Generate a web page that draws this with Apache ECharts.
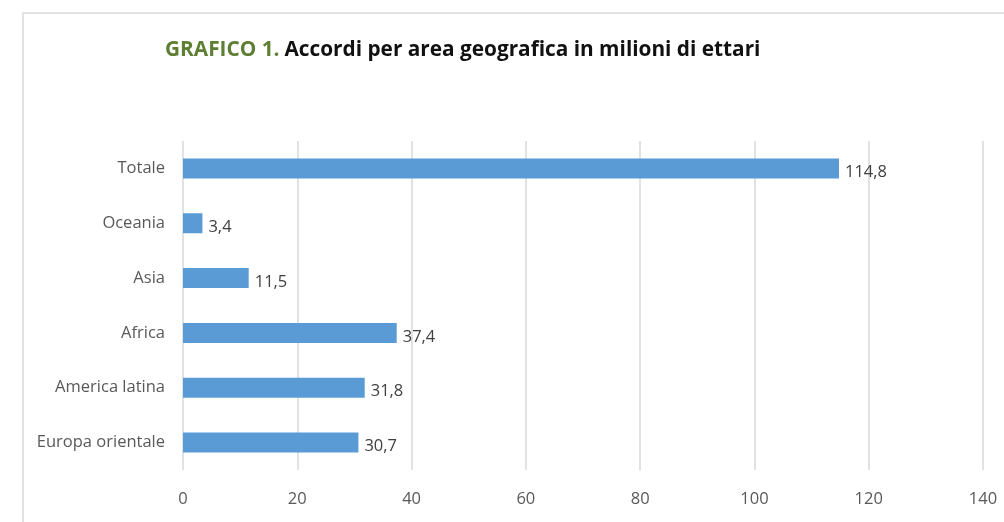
<!DOCTYPE html>
<html>
<head>
<meta charset="utf-8">
<script src="https://cdn.jsdelivr.net/npm/echarts@6/dist/echarts.min.js"></script>
<style>
  html, body { margin: 0; padding: 0; background: #fff; }
  #chart { width: 1004px; height: 522px; }
</style>
</head>
<body>
<div id="chart"></div>
<script>
// Aree geografiche (dal basso verso l'alto) e milioni di ettari
const categories = ['Europa orientale', 'America latina', 'Africa', 'Asia', 'Oceania', 'Totale'];
const values = [30.7, 31.8, 37.4, 11.5, 3.4, 114.8];
const xTicks = [0, 20, 40, 60, 80, 100, 120, 140];

const chart = echarts.init(document.getElementById('chart'));
const fmt = v => String(v).replace('.', ',');

chart.setOption({
  animation: false,
  backgroundColor: '#ffffff',
  graphic: [{
    type: 'rect',
    shape: { x: 23, y: 13, width: 1100, height: 600 },
    style: { fill: 'none', stroke: '#d9d9d9', lineWidth: 1.5 },
    silent: true
  }],
  title: {
    text: '{g|GRAFICO 1.} {b|Accordi per area geografica in milioni di ettari}',
    left: 160,
    top: 35,
    textStyle: {
      rich: {
        g: { color: '#5e7f33', fontSize: 20.8, fontWeight: 'bold', fontFamily: 'Open Sans' },
        b: { color: '#111111', fontSize: 20.8, fontWeight: 'bold', fontFamily: 'Open Sans' }
      }
    }
  },
  grid: { left: 183, right: 21, top: 141, bottom: 52, containLabel: false },
  xAxis: {
    type: 'value',
    min: xTicks[0],
    max: xTicks[xTicks.length - 1],
    interval: 20,
    axisLine: { show: false },
    axisTick: { show: false },
    splitLine: { show: true, lineStyle: { color: '#d9d9d9', width: 1.5 } },
    axisLabel: { color: '#595959', fontSize: 16.5, fontFamily: 'Open Sans', margin: 21 }
  },
  yAxis: {
    type: 'category',
    data: categories,
    axisLine: { show: false },
    axisTick: { show: false },
    axisLabel: { color: '#595959', fontSize: 16.5, fontFamily: 'Open Sans', margin: 18 }
  },
  series: [{
    type: 'bar',
    data: values,
    barWidth: 20,
    itemStyle: { color: '#5b9bd5' },
    label: {
      show: true,
      position: 'right',
      distance: 6,
      offset: [0, 4],
      color: '#404040',
      fontSize: 16.5,
      fontFamily: 'Open Sans',
      formatter: p => fmt(p.value)
    }
  }]
});
</script>
</body>
</html>
